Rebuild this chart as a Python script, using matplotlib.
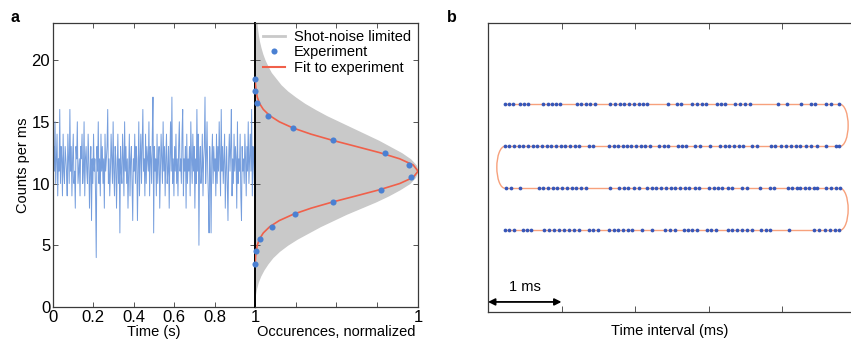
# 광자 계수 그래프 (a: 시간 트레이스 + 히스토그램, b: 도착 시간)
import numpy as np
import matplotlib
matplotlib.use('Agg')
from matplotlib import pyplot as plt
from matplotlib.patches import Arc

plt.rcParams['font.family'] = ['Liberation Sans', 'DejaVu Sans']
plt.rcParams['font.size'] = 10.5

# ---- a: counts per ms trace (0 ~ 1 s)
counts = [
    8, 13, 11, 15, 10, 12, 14, 9, 12, 11, 16, 10, 13, 12, 9, 14, 11, 10, 13, 12,
    11, 9, 14, 12, 10, 16, 11, 13, 9, 12, 14, 10, 11, 8, 13, 12, 15, 10, 11, 12,
    9, 13, 12, 14, 10, 11, 15, 9, 12, 13, 11, 10, 14, 12, 8, 11, 13, 7, 12, 10,
    14, 11, 12, 9, 4, 13, 11, 15, 10, 12, 9, 14, 11, 13, 10, 12, 8, 14, 11, 12,
    13, 16, 10, 12, 9, 11, 14, 12, 10, 15, 11, 9, 13, 12, 8, 11, 14, 10, 12, 6,
    13, 11, 10, 14, 12, 9, 15, 11, 13, 10, 12, 8, 11, 14, 9, 12, 13, 10, 7, 12,
    11, 14, 10, 13, 12, 7, 11, 15, 9, 12, 14, 10, 13, 16, 11, 12, 9, 14, 10, 13,
    12, 11, 15, 9, 13, 12, 10, 14, 17, 6, 13, 11, 12, 9, 14, 10, 12, 13, 8, 11,
    14, 12, 10, 15, 11, 13, 9, 12, 14, 10, 11, 13, 8, 12, 15, 11, 17, 10, 12, 9,
    13, 11, 14, 10, 12, 9, 13, 15, 11, 12, 10, 14, 16, 9, 12, 11, 13, 8, 14, 10,
    12, 11, 13, 9, 15, 12, 10, 14, 11, 13, 8, 12, 10, 16, 11, 14, 5, 12, 13, 10,
    11, 14, 9, 12, 13, 17, 10, 12, 15, 11, 9, 6, 13, 11, 6, 12, 14, 10, 13, 11,
    12, 9, 14, 10, 13, 11, 15, 12, 9, 16, 11, 13, 10, 12, 14, 8, 11, 13, 10, 7,
    12, 14, 11, 13, 16, 9, 12, 10, 14, 11, 13, 12, 8, 15, 10, 12, 11, 14, 9, 7,
    13, 11, 12, 10, 14, 12, 9, 13, 11, 15, 10, 12, 14, 11, 16, 9, 13, 12, 10, 11,
]
time_s = np.arange(len(counts)) / (len(counts) - 1)

# ---- a: histogram (normalized occurrences)
exp_counts = [3.5, 4.5, 5.5, 6.5, 7.5, 8.5, 9.5, 10.5, 11.5, 12.5, 13.5, 14.5, 15.5, 16.5, 17.5, 18.5]
exp_occ = [0.0, 0.008, 0.029, 0.106, 0.247, 0.478, 0.771, 0.957, 0.947, 0.795, 0.477, 0.235, 0.08, 0.014, 0.0, 0.0]

fit_counts = [3.5, 4.0, 4.5, 5.0, 5.5, 6.0, 6.5, 7.0, 7.5, 8.0, 8.5, 9.0, 9.5, 10.0, 10.5, 11.0,
              11.5, 12.0, 12.5, 13.0, 13.5, 14.0, 14.5, 15.0, 15.5, 16.0, 16.5, 17.0, 17.5, 18.0, 18.5]
fit_occ = [0.001, 0.003, 0.007, 0.014, 0.027, 0.051, 0.09, 0.149, 0.233, 0.343, 0.475, 0.621, 0.765, 0.888, 0.971, 1.0,
           0.971, 0.888, 0.765, 0.621, 0.475, 0.343, 0.233, 0.149, 0.09, 0.051, 0.027, 0.014, 0.007, 0.003, 0.001]

shot_counts = [0.5, 1.0, 1.5, 2.0, 2.5, 3.0, 3.5, 4.0, 4.5, 5.0, 5.5, 6.0, 6.5, 7.0, 7.5, 8.0, 8.5, 9.0,
               9.5, 10.0, 10.5, 11.0, 11.5, 12.0, 12.5, 13.0, 13.5, 14.0, 14.5, 15.0, 15.5, 16.0, 16.5,
               17.0, 17.5, 18.0, 18.5, 19.0, 19.5, 20.0, 20.5, 21.0, 21.5, 22.0, 22.5, 23.0]
shot_occ = [0.0, 0.003, 0.01, 0.02, 0.035, 0.055, 0.08, 0.11, 0.15, 0.2, 0.26, 0.33, 0.4, 0.48, 0.56, 0.65, 0.74, 0.82,
            0.89, 0.95, 0.985, 1.0, 0.99, 0.955, 0.9, 0.83, 0.76, 0.68, 0.6, 0.52, 0.44, 0.37, 0.305,
            0.25, 0.2, 0.16, 0.13, 0.1, 0.08, 0.062, 0.048, 0.037, 0.028, 0.021, 0.016, 0.012]

# ---- b: photon arrival times (ms), 4 rows, top row first
row1 = [0.23, 0.29, 0.34, 0.43, 0.49, 0.55, 0.75, 0.81, 0.87, 0.93, 0.98, 1.21, 1.27, 1.33, 1.39, 1.45,
        1.66, 1.73, 1.79, 1.85, 1.92, 1.98, 2.05, 2.11, 2.17, 2.45, 2.57, 2.63, 2.78, 2.84, 2.91, 2.97,
        3.11, 3.17, 3.23, 3.36, 3.43, 3.49, 3.56, 3.95, 4.07, 4.26, 4.39, 4.45, 4.60, 4.67, 4.78]
row2 = [0.23, 0.29, 0.35, 0.42, 0.48, 0.54, 0.61, 0.67, 0.74, 0.80, 0.86, 0.93, 0.99, 1.05, 1.12, 1.18, 1.24,
        1.37, 1.43, 1.64, 1.71, 1.77, 1.83, 1.89, 1.95, 2.01, 2.08, 2.14, 2.20, 2.32, 2.39, 2.45,
        2.58, 2.64, 2.70, 2.82, 2.88, 3.02, 3.15, 3.22, 3.28, 3.35, 3.41, 3.47, 3.59, 3.66,
        3.85, 3.91, 3.98, 4.05, 4.12, 4.19, 4.25, 4.32, 4.39, 4.48, 4.60, 4.73, 4.78]
row3 = [0.25, 0.31, 0.43, 0.69, 0.75, 0.82, 0.88, 0.94, 1.01, 1.08, 1.14, 1.20, 1.27, 1.33, 1.66,
        1.78, 1.85, 1.91, 1.98, 2.05, 2.16, 2.23, 2.29, 2.36, 2.42, 2.49, 2.55, 2.61, 2.68, 2.74, 2.81, 2.87,
        3.00, 3.07, 3.13, 3.19, 3.26, 3.32, 3.45, 3.52, 3.70, 3.83, 3.89,
        4.08, 4.14, 4.20, 4.25, 4.31, 4.37, 4.43, 4.48, 4.60, 4.66, 4.73, 4.79]
row4 = [0.23, 0.29, 0.35, 0.47, 0.53, 0.59, 0.76, 0.83, 0.90, 0.97, 1.03, 1.10, 1.17, 1.24,
        1.37, 1.43, 1.50, 1.64, 1.71, 1.77, 1.83, 1.90, 1.96, 2.10, 2.23, 2.41, 2.48, 2.54,
        2.66, 2.72, 2.78, 2.85, 2.98, 3.04, 3.10, 3.26, 3.32, 3.39, 3.46, 3.53, 3.59,
        3.71, 3.78, 3.84, 4.10, 4.44, 4.51, 4.58, 4.65, 4.72, 4.78]
rows = [row1, row2, row3, row4]

W, H = 851, 339
fig = plt.figure(figsize=(W / 100, H / 100), dpi=100)

def box(x0, y0, x1, y1):
    # 픽셀 좌표(위에서 아래) -> figure 비율
    return [x0 / W, (H - y1) / H, (x1 - x0) / W, (y1 - y0) / H]

spine_c = '#3a3a3a'

def style(ax):
    for s in ax.spines.values():
        s.set_color(spine_c)
        s.set_linewidth(0.9)
    ax.tick_params(direction='in', length=3.5, width=0.7, color='#555555',
                   top=True, right=True, pad=2, labelsize=12)

# ---- a 왼쪽: 시간 트레이스
ax1 = fig.add_axes(box(53, 23, 255, 307))
ax1.plot(time_s, counts, color='#6794da', lw=0.7, alpha=0.9)
ax1.set_xlim(0, 1)
ax1.set_ylim(0, 23)
ax1.set_xticks([0, 0.2, 0.4, 0.6, 0.8, 1])
ax1.set_xticklabels(['0', '0.2', '0.4', '0.6', '0.8', '1'])
ax1.set_yticks([0, 5, 10, 15, 20])
ax1.set_xlabel('Time (s)', labelpad=0)
ax1.set_ylabel('Counts per ms', labelpad=1)
style(ax1)

# ---- a 오른쪽: 히스토그램
ax2 = fig.add_axes(box(255, 23, 418, 307))
ax2.fill_betweenx(shot_counts, 0, shot_occ, color='#c9c9c9', lw=0)
ax2.plot(fit_occ, fit_counts, color='#f0604a', lw=1.2, zorder=3)
ax2.plot(exp_occ, exp_counts, 'o', color='#4a80d2', ms=4.4, mec='none', zorder=4, clip_on=False)
ax2.set_xlim(0, 1)
ax2.set_ylim(0, 23)
ax2.set_xticks([0, 0.25, 0.5, 0.75, 1])
ax2.set_xticklabels(['', '', '', '', '1'])
ax2.set_yticks([0, 5, 10, 15, 20])
ax2.set_yticklabels([])
ax2.set_xlabel('Occurences, normalized', labelpad=0)
style(ax2)
ax2.spines['left'].set_color('black')
ax2.spines['left'].set_linewidth(1.4)

h_shot = plt.Line2D([], [], color='#c9c9c9', lw=2)
h_exp = plt.Line2D([], [], color='#4a80d2', marker='o', ls='none', ms=4.4, mec='none')
h_fit = plt.Line2D([], [], color='#f0604a', lw=1.5)
ax2.legend([h_shot, h_exp, h_fit], ['Shot-noise limited', 'Experiment', 'Fit to experiment'],
           loc='upper right', bbox_to_anchor=(1.0, 1.0), frameon=False, fontsize=10.5,
           labelspacing=0.08, handlelength=1.5, handletextpad=0.6, borderaxespad=0.4,
           borderpad=0.1)

# ---- b: 도착 시간 (뱀 모양 경로)
ax3 = fig.add_axes(box(488, 23, 852, 312))
row_y = [3, 2, 1, 0]
x_start = min(r[0] for r in rows)
x_end = max(r[-1] for r in rows)
line_c = '#f7a17c'
dot_c = '#3656b8'
for r, y in zip(rows, row_y):
    ax3.plot([x_start, x_end], [y, y], color=line_c, lw=1.0, zorder=1)
    ax3.plot(r, [y] * len(r), 'o', color=dot_c, ms=2.7, mec='none', zorder=2)

# 줄 끝을 잇는 반원
bulge = 0.22
ax3.add_patch(Arc((x_end, 2.5), bulge, 1, theta1=-90, theta2=90, color=line_c, lw=1.0))
ax3.add_patch(Arc((x_start, 1.5), bulge, 1, theta1=90, theta2=270, color=line_c, lw=1.0))
ax3.add_patch(Arc((x_end, 0.5), bulge, 1, theta1=-90, theta2=90, color=line_c, lw=1.0))

ax3.set_xlim(0, 364 / 73.5)
ax3.set_ylim(-1.95, 4.94)
ax3.set_xticks([1, 2, 3, 4])
ax3.set_xticklabels([])
ax3.set_yticks([])
ax3.set_xlabel('Time interval (ms)', labelpad=5)
for s in ax3.spines.values():
    s.set_color(spine_c)
    s.set_linewidth(0.9)
ax3.tick_params(direction='in', length=4, width=0.7, color='#555555', top=True)

# 1 ms 화살표
ax3.annotate('', xy=(0, -1.71), xytext=(1, -1.71),
             arrowprops=dict(arrowstyle='<|-|>', color='black', lw=1.3,
                             mutation_scale=10, shrinkA=0, shrinkB=0))
ax3.text(0.5, -1.36, '1 ms', ha='center', va='center', fontsize=10.5)

# 패널 라벨
fig.text(15 / W, 1 - 18 / H, 'a', fontsize=11.5, fontweight='bold', ha='center', va='center')
fig.text(452 / W, 1 - 18 / H, 'b', fontsize=11.5, fontweight='bold', ha='center', va='center')

fig.savefig('out.png', dpi=100)
